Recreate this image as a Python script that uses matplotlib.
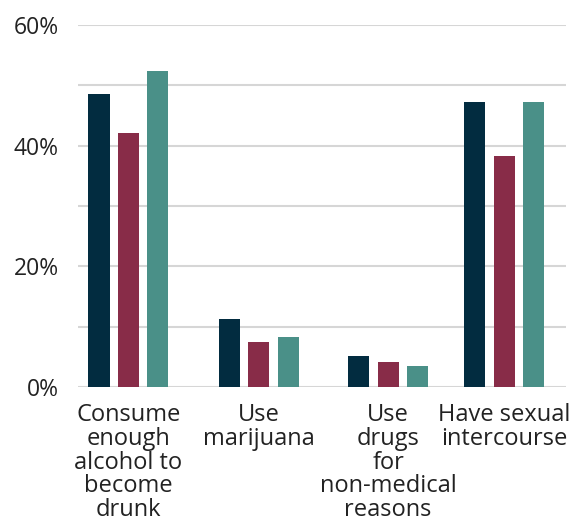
import matplotlib
matplotlib.use("Agg")
import matplotlib.pyplot as plt
import numpy as np
from matplotlib.ticker import FuncFormatter, MultipleLocator

categories = ["Consume\nenough\nalcohol to\nbecome\ndrunk", "Use\nmarijuana",
              "Use\ndrugs\nfor\nnon-medical\nreasons", "Have sexual\nintercourse"]
series_a = [48.5, 11.2, 5.1, 47.3]
series_b = [42.1, 7.4, 4.1, 38.3]
series_c = [52.3, 8.2, 3.4, 47.3]
colors = ["#022c40", "#882c48", "#4a9088"]

plt.rcParams['font.family'] = ['Open Sans', 'DejaVu Sans']
fig = plt.figure(figsize=(5.76, 5.27), dpi=100)
ax = fig.add_axes([0.1354, 0.266, 0.847, 0.6866])

pos = np.array([0, 1.0, 1.99, 2.88])
w = 0.161
off = 0.226
for i, (vals, c) in enumerate(zip([series_a, series_b, series_c], colors)):
    ax.bar(pos + (i - 1) * off, vals, width=w, color=c, zorder=3)

ax.set_xlim(-0.387, 3.352)
ax.set_ylim(0, 60)
ax.yaxis.set_major_locator(MultipleLocator(20))
ax.yaxis.set_minor_locator(MultipleLocator(10))
ax.yaxis.set_major_formatter(FuncFormatter(lambda v, p: f"{v:.0f}%"))
ax.grid(axis='y', which='both', color='#d6d6d6', linewidth=1.5, zorder=0)
ax.set_axisbelow(True)
for s in ax.spines.values():
    s.set_visible(False)
ax.tick_params(axis='y', which='both', length=0, pad=14, labelsize=16.5, labelcolor='#222222')
ax.set_xticks(pos)
ax.set_xticklabels(categories, fontsize=17, color='#222222', linespacing=0.98)
ax.tick_params(axis='x', length=0, pad=12)

fig.savefig("out.png", dpi=100)
